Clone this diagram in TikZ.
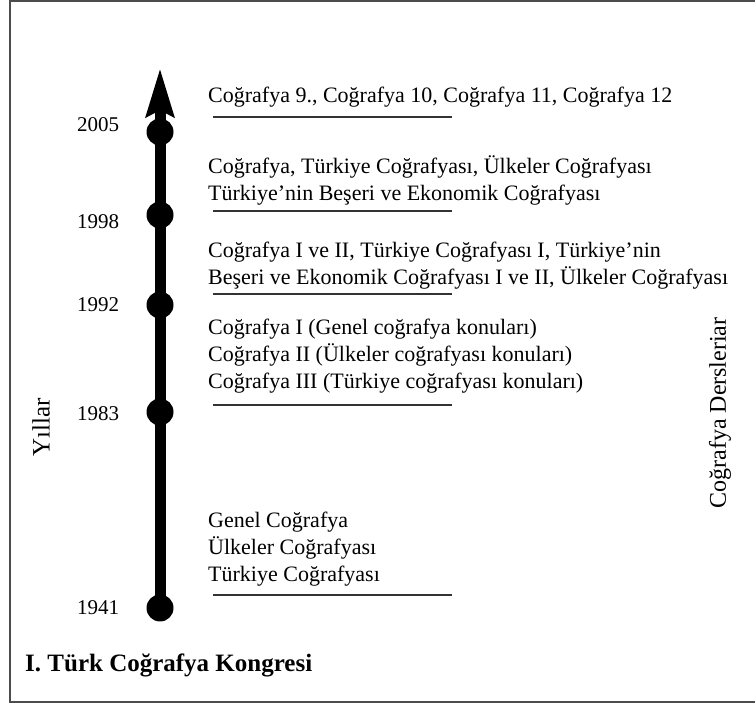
\documentclass[tikz,border=0pt]{standalone}
\usepackage{fontspec}
\setmainfont{Liberation Serif}
\usetikzlibrary{arrows.meta}

\begin{document}
\begin{tikzpicture}[x=1pt,y=1pt,node distance=62pt,
    dot/.style={circle,fill=black,inner sep=0pt,minimum size=27pt},
    year/.style={font=\fontsize{21}{25}\selectfont},
    lesson/.style={anchor=west,align=left,inner sep=0pt,font=\fontsize{22}{27}\selectfont},
    rule/.style={line width=1.3pt,draw=black!80},
    axis/.style={line width=11pt,-{Stealth[length=48pt,width=27pt,inset=6pt]}}]
  \clip (0,0) rectangle (755,704);
  \draw[line width=1.5pt,draw=black!70] (10,2) rectangle (800,703);

  % time line
  \node[dot] (d1941) at (160,96)  {};
  \node[dot] (d1983) at (160,292) {};
  \node[dot] (d1992) at (160,399) {};
  \node[dot] (d1998) at (160,489) {};
  \node[dot] (d2005) at (160,572) {};
  \coordinate (tip) at (160,636);
  \draw[axis] (d1941.center) -- (tip);

  \node[year] (y1941) [left of=d1941]            {1941};
  \node[year] (y1983) [left of=d1983,yshift=-2pt] {1983};
  \node[year] (y1992) [left of=d1992]            {1992};
  \node[year] (y1998) [left of=d1998,yshift=-7pt] {1998};
  \node[year] (y2005) [left of=d2005,yshift=7pt]  {2005};

  % lessons
  \node[lesson] (l1941) at (208,155) {Genel Coğrafya\\Ülkeler Coğrafyası\\Türkiye Coğrafyası};
  \node[lesson] (l1983) at (208,348) {Coğrafya I (Genel coğrafya konuları)\\Coğrafya II (Ülkeler coğrafyası konuları)\\Coğrafya III (Türkiye coğrafyası konuları)};
  \node[lesson] (l1992) at (208,438.5) {Coğrafya I ve II, Türkiye Coğrafyası I, Türkiye’nin\\Beşeri ve Ekonomik Coğrafyası I ve II, Ülkeler Coğrafyası};
  \node[lesson] (l1998) at (208,524) {Coğrafya, Türkiye Coğrafyası, Ülkeler Coğrafyası\\Türkiye’nin Beşeri ve Ekonomik Coğrafyası};
  \node[lesson] (l2005) at (208,607) {Coğrafya 9., Coğrafya 10, Coğrafya 11, Coğrafya 12};

  \foreach \y in {109,299,410,493,587}
    \draw[rule] (213,\y) -- +(239,0);

  \node[rotate=90,font=\fontsize{25}{30}\selectfont] (yillar) at (41,277) {Yıllar};
  \node[rotate=90,font=\fontsize{24}{29}\selectfont] (dersler) at (720,291) {Coğrafya Dersleriar};
  \node[anchor=west,inner sep=0pt,font=\fontsize{25}{30}\selectfont\bfseries] (kongre) at (25,39) {I. Türk Coğrafya Kongresi};
\end{tikzpicture}
\end{document}
